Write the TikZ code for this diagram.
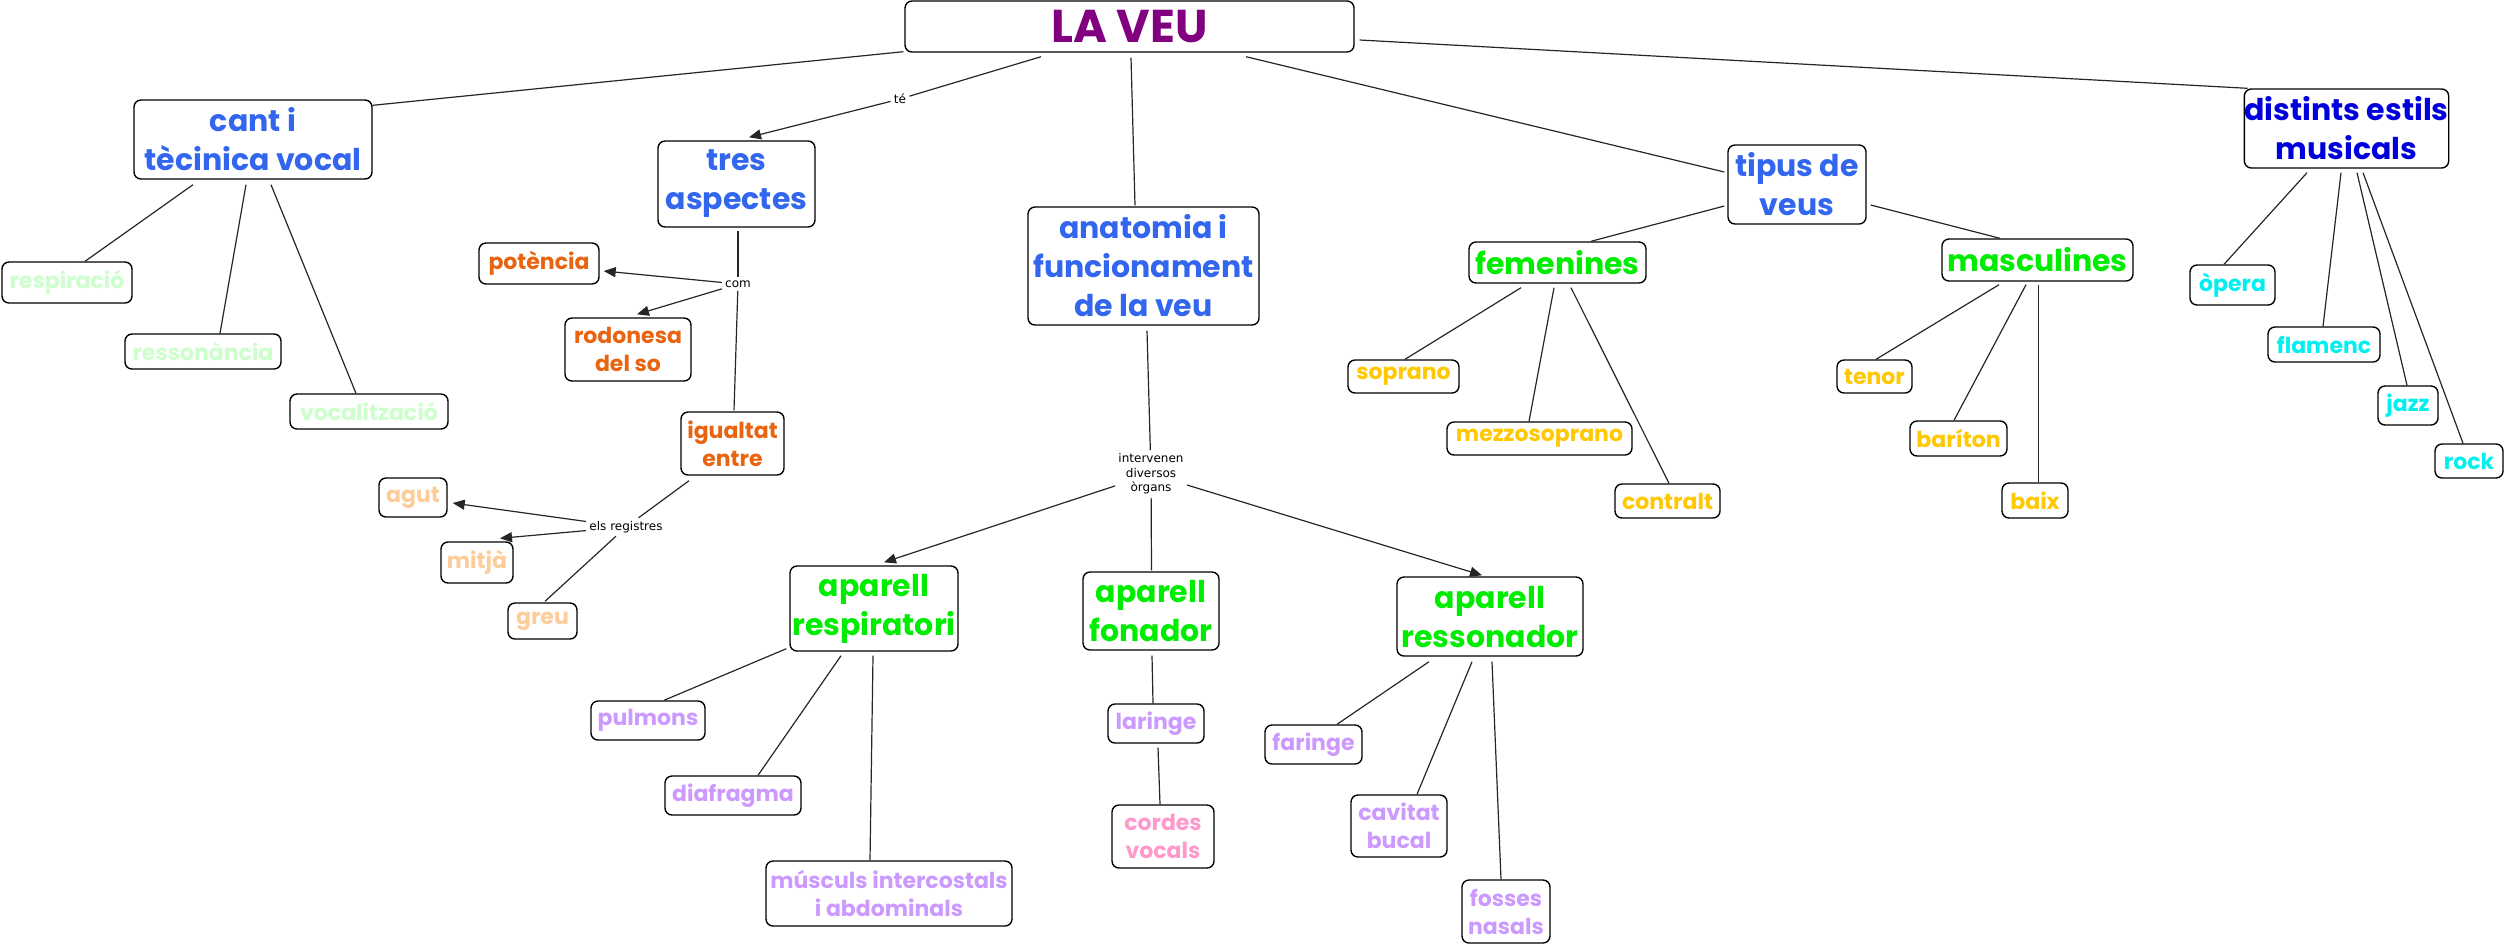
\documentclass[tikz,border=0pt]{standalone}
\usepackage{fontspec}
\setmainfont{Poppins}
\newfontfamily\lblfont{DejaVu Sans}
\usetikzlibrary{calc,arrows.meta}
\definecolor{cpurple}{RGB}{128,0,128}
\definecolor{cblue}{RGB}{51,102,238}
\definecolor{cdblue}{RGB}{0,0,220}
\definecolor{cgreen}{RGB}{0,236,0}
\definecolor{clgreen}{RGB}{204,255,204}
\definecolor{corange}{RGB}{232,100,16}
\definecolor{cpeach}{RGB}{252,204,153}
\definecolor{clilac}{RGB}{204,153,255}
\definecolor{cpink}{RGB}{255,153,204}
\definecolor{cyellow}{RGB}{255,200,0}
\definecolor{ccyan}{RGB}{0,240,240}
\tikzset{
  cbox/.style n args={3}{draw=black, line width=0.7pt, rounded corners=3.5pt, fill=white,
    inner sep=0pt, align=center, minimum width=#1*0.5pt, minimum height=#2*0.5pt, text=#3},
  big/.style={font=\bfseries\fontsize{15}{19.5}\selectfont},
  small/.style={font=\bfseries\fontsize{11}{14}\selectfont},
  lbl/.style={inner sep=1.5pt, align=center, font=\lblfont\fontsize{6}{7.3}\selectfont},
  link/.style={draw=black!85, line width=0.6pt},
  arr/.style={link, -{Triangle[length=6pt,width=5pt]}}
}
\begin{document}
\begin{tikzpicture}[x=0.5pt,y=-0.5pt]
\useasboundingbox (0,0) rectangle (2509,950);
% main
\node[cbox={449}{51}{cpurple}, font=\bfseries\fontsize{23}{26}\selectfont] (laveu) at (1129.5,26.5) {LA VEU};
% level 1
\node[cbox={238}{79}{cblue}, big] (cant) at (253,139.5) {cant i\\tècinica vocal};
\node[cbox={157}{86}{cblue}, big] (tres) at (736.5,184) {tres\\aspectes};
\node[cbox={231}{118}{cblue}, big] (anat) at (1143.5,266) {anatomia i\\funcionament\\de la veu};
\node[cbox={138}{79}{cblue}, big] (tipus) at (1797,184.5) {tipus de\\veus};
\node[cbox={201}{79}{cdblue}, big] (dist) at (2346.5,128.5) {distints estils\\musicals};
% cant children
\node[cbox={130}{41}{clgreen}, small] (respi) at (67,282.5) {respiració};
\node[cbox={156}{35}{clgreen}, small] (resso) at (203,351.5) {ressonància};
\node[cbox={158}{35}{clgreen}, small] (vocal) at (369,411.5) {vocalització};
% tres aspectes
\node[cbox={120}{41}{corange}, small] (pot) at (539,263.5) {potència};
\node[cbox={126}{63}{corange}, small] (rod) at (628,349.5) {rodonesa\\del so};
\node[cbox={103}{63}{corange}, small] (igu) at (732.5,443.5) {igualtat\\entre};
\node[cbox={68}{39}{cpeach}, small] (agut) at (413,497.5) {agut};
\node[cbox={72}{41}{cpeach}, small] (mitja) at (477,562.5) {mitjà};
\node[cbox={69}{36}{cpeach}, small] (greu) at (542.5,621) {greu};
% anatomia
\node[cbox={168}{85}{cgreen}, big] (aresp) at (874,608.5) {aparell\\respiratori};
\node[cbox={136}{78}{cgreen}, big] (afon) at (1151,611) {aparell\\fonador};
\node[cbox={186}{79}{cgreen}, big] (aress) at (1490,616.5) {aparell\\ressonador};
\node[cbox={114}{39}{clilac}, small] (pulm) at (648,720.5) {pulmons};
\node[cbox={136}{39}{clilac}, small] (diaf) at (733,795.5) {diafragma};
\node[cbox={246}{65}{clilac}, small] (musc) at (889,893.5) {músculs intercostals\\i abdominals};
\node[cbox={96}{39}{clilac}, small] (lar) at (1156,723.5) {laringe};
\node[cbox={102}{63}{cpink}, small] (cord) at (1163,836.5) {cordes\\vocals};
\node[cbox={97}{39}{clilac}, small] (far) at (1313.5,744.5) {faringe};
\node[cbox={96}{62}{clilac}, small] (cav) at (1399,826) {cavitat\\bucal};
\node[cbox={88}{63}{clilac}, small] (foss) at (1506,911.5) {fosses\\nasals};
% tipus de veus
\node[cbox={177}{41}{cgreen}, big] (fem) at (1557.5,262.5) {femenines};
\node[cbox={191}{42}{cgreen}, big] (masc) at (2037.5,260) {masculines};
\node[cbox={111}{33}{cyellow}, small] (sop) at (1403.5,376.5) {soprano};
\node[cbox={185}{33}{cyellow}, small] (mezz) at (1539.5,438.5) {mezzosoprano};
\node[cbox={105}{34}{cyellow}, small] (contr) at (1667.5,501) {contralt};
\node[cbox={75}{33}{cyellow}, small] (ten) at (1874.5,376.5) {tenor};
\node[cbox={97}{35}{cyellow}, small] (bar) at (1958.5,438.5) {baríton};
\node[cbox={66}{35}{cyellow}, small] (baix) at (2035,500.5) {baix};
% estils
\node[cbox={85}{40}{ccyan}, small] (oper) at (2232.5,285) {òpera};
\node[cbox={112}{35}{ccyan}, small] (flam) at (2324,344.5) {flamenc};
\node[cbox={60}{39}{ccyan}, small] (jazz) at (2408,405.5) {jazz};
\node[cbox={68}{34}{ccyan}, small] (rock) at (2469,461) {rock};
% link labels
\node[lbl] (te) at (900,99) {té};
\node[lbl] (com) at (738,284) {com};
\node[lbl] (regs) at (626,527) {els registres};
\node[lbl] (interv) at (1151,474) {intervenen\\diversos\\òrgans};
% connectors from LA VEU
\draw[link] ($(laveu.south west)+(-1,-1)$) -- ($(cant.north east)+(0,6)$);
\draw[link] ($(laveu.south)+(-88.5,4)$) -- (te);
\draw[arr] (te) -- ($(tres.north)+(12.5,-3)$);
\draw[link] ($(laveu.south)+(1.5,5)$) -- ($(anat.north)+(-8.5,-1)$);
\draw[link] ($(laveu.south)+(116.5,4)$) -- ($(tipus.west)+(-3,-12.5)$);
\draw[link] ($(laveu.east)+(5,13.5)$) -- ($(dist.north west)+(4,0)$);
% cant
\draw[link] ($(cant.south)+(-60,5)$) -- ($(respi.north)+(18,0)$);
\draw[link] ($(cant.south)+(-7,5)$) -- ($(resso.north)+(17,0)$);
\draw[link] ($(cant.south)+(18,5)$) -- ($(vocal.north)+(-13,0)$);
% tres aspectes
\draw[link] ($(tres.south)+(1.5,3)$) -- (com);
\draw[arr] (com) -- ($(pot.east)+(4,7.5)$);
\draw[arr] (com) -- ($(rod.north)+(9,-3)$);
\draw[link] (com) -- ($(igu.north)+(1.5,-1)$);
\draw[link] ($(igu.south)+(-43.5,5)$) -- (regs);
\draw[arr] (regs) -- ($(agut.east)+(5,5.5)$);
\draw[arr] (regs) -- ($(mitja.north)+(23,-3)$);
\draw[link] (regs) -- ($(greu.north)+(2.5,-1)$);
% anatomia
\draw[link] ($(anat.south)+(3.5,5)$) -- (interv);
\draw[arr] (interv) -- ($(aresp.north)+(10,-3)$);
\draw[link] (interv) -- ($(afon.north)+(0.5,-1)$);
\draw[arr] (interv) -- ($(aress.north)+(-8,-1)$);
\draw[link] ($(aresp.south west)+(-3,-3)$) -- ($(pulm.north)+(16,0)$);
\draw[link] ($(aresp.south)+(-33,4)$) -- ($(diaf.north)+(25,0)$);
\draw[link] ($(aresp.south)+(-1,4)$) -- ($(musc.north)+(-19,0)$);
\draw[link] ($(afon.south)+(1,5)$) -- ($(lar.north)+(-3,0)$);
\draw[link] ($(lar.south)+(2,4)$) -- ($(cord.north)+(-3,0)$);
\draw[link] ($(aress.south)+(-61,5)$) -- ($(far.north)+(23.5,0)$);
\draw[link] ($(aress.south)+(-18,5)$) -- ($(cav.north)+(18,0)$);
\draw[link] ($(aress.south)+(2,5)$) -- ($(foss.north)+(-5,0)$);
% tipus de veus
\draw[link] ($(tipus.west)+(-3,21.5)$) -- ($(fem.north)+(33.5,0)$);
\draw[link] ($(tipus.east)+(4,20.5)$) -- ($(masc.north)+(-37.5,0)$);
\draw[link] ($(fem.south)+(-36.5,4)$) -- ($(sop.north)+(1.5,0)$);
\draw[link] ($(fem.south)+(-3.5,4)$) -- ($(mezz.north)+(-10.5,0)$);
\draw[link] ($(fem.south)+(13.5,4)$) -- ($(contr.north)+(1.5,0)$);
\draw[link] ($(masc.south)+(-38.5,3)$) -- ($(ten.north)+(1.5,0)$);
\draw[link] ($(masc.south)+(-11.5,3)$) -- ($(bar.north)+(-4.5,0)$);
\draw[link] ($(masc.south)+(1,3)$) -- ($(baix.north)+(3.5,0)$);
% estils
\draw[link] ($(dist.south)+(-39.5,4)$) -- ($(oper.north)+(-8.5,0)$);
\draw[link] ($(dist.south)+(-5.5,4)$) -- ($(flam.north)+(-1,0)$);
\draw[link] ($(dist.south)+(10.5,4)$) -- ($(jazz.north)+(-1,0)$);
\draw[link] ($(dist.south)+(16.5,4)$) -- ($(rock.north)+(-6,0)$);
\end{tikzpicture}
\end{document}
